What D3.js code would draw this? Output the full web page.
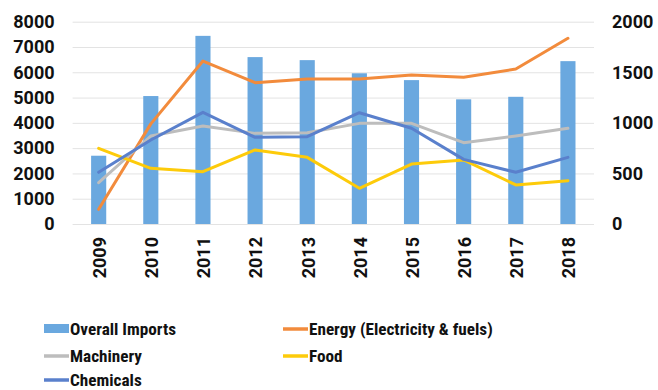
<!DOCTYPE html>
<html>
<head>
<meta charset="utf-8">
<script src="https://cdn.jsdelivr.net/npm/d3@7"></script>
<style>
  html, body { margin: 0; padding: 0; background: #fff; }
  svg { display: block; }
  .tick-label { font-family: Roboto, "Noto Sans", sans-serif; font-weight: 700; font-size: 18px; fill: #111; }
  .legend-label { font-family: "Liberation Sans Narrow", "Roboto Condensed", Roboto, sans-serif; font-weight: 700; font-size: 17.2px; fill: #111; }
</style>
</head>
<body>
<svg id="chart" width="658" height="390"></svg>
<script>
// Import values by year
const years = ["2009", "2010", "2011", "2012", "2013", "2014", "2015", "2016", "2017", "2018"];
const overallImports = [2700, 5060, 7440, 6600, 6480, 5960, 5690, 4930, 5030, 6440];
const energy = [145, 990, 1611, 1397, 1433, 1433, 1473, 1450, 1532, 1836];
const machinery = [408, 870, 969, 896, 903, 995, 995, 804, 870, 946];
const food = [748, 550, 517, 732, 659, 353, 593, 633, 386, 428];
const chemicals = [511, 830, 1104, 857, 863, 1100, 946, 639, 511, 659];
const leftTicks = [0, 1000, 2000, 3000, 4000, 5000, 6000, 7000, 8000];
const rightTicks = [0, 500, 1000, 1500, 2000];

const lineSeries = [
  { name: "Energy (Electricity & fuels)", values: energy, color: "#f28b3c" },
  { name: "Machinery", values: machinery, color: "#bdbdbd" },
  { name: "Food", values: food, color: "#fdcb0a" },
  { name: "Chemicals", values: chemicals, color: "#5a80cc" }
];
const barColor = "#6aa8df";

const svg = d3.select("#chart");
const plot = { left: 72.6, right: 594, top: 21.7, bottom: 224 };

const x = d3.scaleBand().domain(years).range([plot.left, plot.right]).paddingInner(0.71).paddingOuter(0.355);
const xc = d => x(d) + x.bandwidth() / 2;
const yL = d3.scaleLinear().domain([0, 8000]).range([plot.bottom, plot.top]);
const yR = d3.scaleLinear().domain([0, 2000]).range([plot.bottom, plot.top]);

// Gridlines
svg.append("g")
  .attr("transform", `translate(${plot.left},0)`)
  .call(d3.axisLeft(yL).tickValues(leftTicks).tickSize(-(plot.right - plot.left)).tickFormat(""))
  .call(g => g.select(".domain").remove())
  .call(g => g.selectAll("line").attr("stroke", "#e3e3e3").attr("stroke-width", 1));

// Left axis labels
svg.append("g")
  .attr("transform", `translate(${plot.left},0)`)
  .call(d3.axisLeft(yL).tickValues(leftTicks).tickSize(0).tickPadding(18).tickFormat(d3.format("d")))
  .call(g => g.select(".domain").remove())
  .call(g => g.selectAll("text").attr("class", "tick-label"));

// Right axis labels
svg.append("g")
  .attr("transform", `translate(${plot.right},0)`)
  .call(d3.axisRight(yR).tickValues(rightTicks).tickSize(0).tickPadding(18).tickFormat(d3.format("d")))
  .call(g => g.select(".domain").remove())
  .call(g => g.selectAll("text").attr("class", "tick-label"));

// Year labels, rotated
svg.append("g")
  .attr("transform", `translate(0,${plot.bottom})`)
  .call(d3.axisBottom(x).tickSize(0).tickPadding(0))
  .call(g => g.select(".domain").remove())
  .call(g => g.selectAll("text")
    .attr("class", "tick-label")
    .attr("text-anchor", "end")
    .attr("dy", "0.35em")
    .attr("transform", "translate(1,13) rotate(-90)")
    .attr("x", 0).attr("y", 0));

// Bars
svg.append("g").selectAll("rect")
  .data(years)
  .join("rect")
  .attr("x", d => x(d))
  .attr("width", x.bandwidth())
  .attr("y", (d, i) => yL(overallImports[i]))
  .attr("height", (d, i) => plot.bottom - yL(overallImports[i]))
  .attr("fill", barColor);

// Lines
const line = d3.line().x((d, i) => xc(years[i])).y(d => yR(d));
svg.append("g").selectAll("path")
  .data(lineSeries)
  .join("path")
  .attr("d", s => line(s.values))
  .attr("fill", "none")
  .attr("stroke", s => s.color)
  .attr("stroke-width", 3)
  .attr("stroke-linejoin", "round")
  .attr("stroke-linecap", "round");

// Legend
const legendItems = [
  { name: "Overall Imports", color: barColor, type: "bar", col: 0, row: 0 },
  { name: "Energy (Electricity & fuels)", color: lineSeries[0].color, type: "line", col: 1, row: 0 },
  { name: "Machinery", color: lineSeries[1].color, type: "line", col: 0, row: 1 },
  { name: "Food", color: lineSeries[2].color, type: "line", col: 1, row: 1 },
  { name: "Chemicals", color: lineSeries[3].color, type: "line", col: 0, row: 2 }
];
const colX = [44, 283];
const rowY = [329, 356, 380];
const lg = svg.append("g").selectAll("g").data(legendItems).join("g")
  .attr("transform", d => `translate(${colX[d.col]},${rowY[d.row]})`);
lg.each(function(d) {
  const g = d3.select(this);
  if (d.type === "bar") {
    g.append("rect").attr("x", 0).attr("y", -5).attr("width", 25).attr("height", 9).attr("fill", d.color);
  } else {
    g.append("line").attr("x1", 0).attr("x2", 25).attr("y1", 0).attr("y2", 0)
      .attr("stroke", d.color).attr("stroke-width", 3.5);
  }
  g.append("text").attr("class", "legend-label").attr("x", 26).attr("y", 0).attr("dy", "0.36em").text(d.name);
});
</script>
</body>
</html>
